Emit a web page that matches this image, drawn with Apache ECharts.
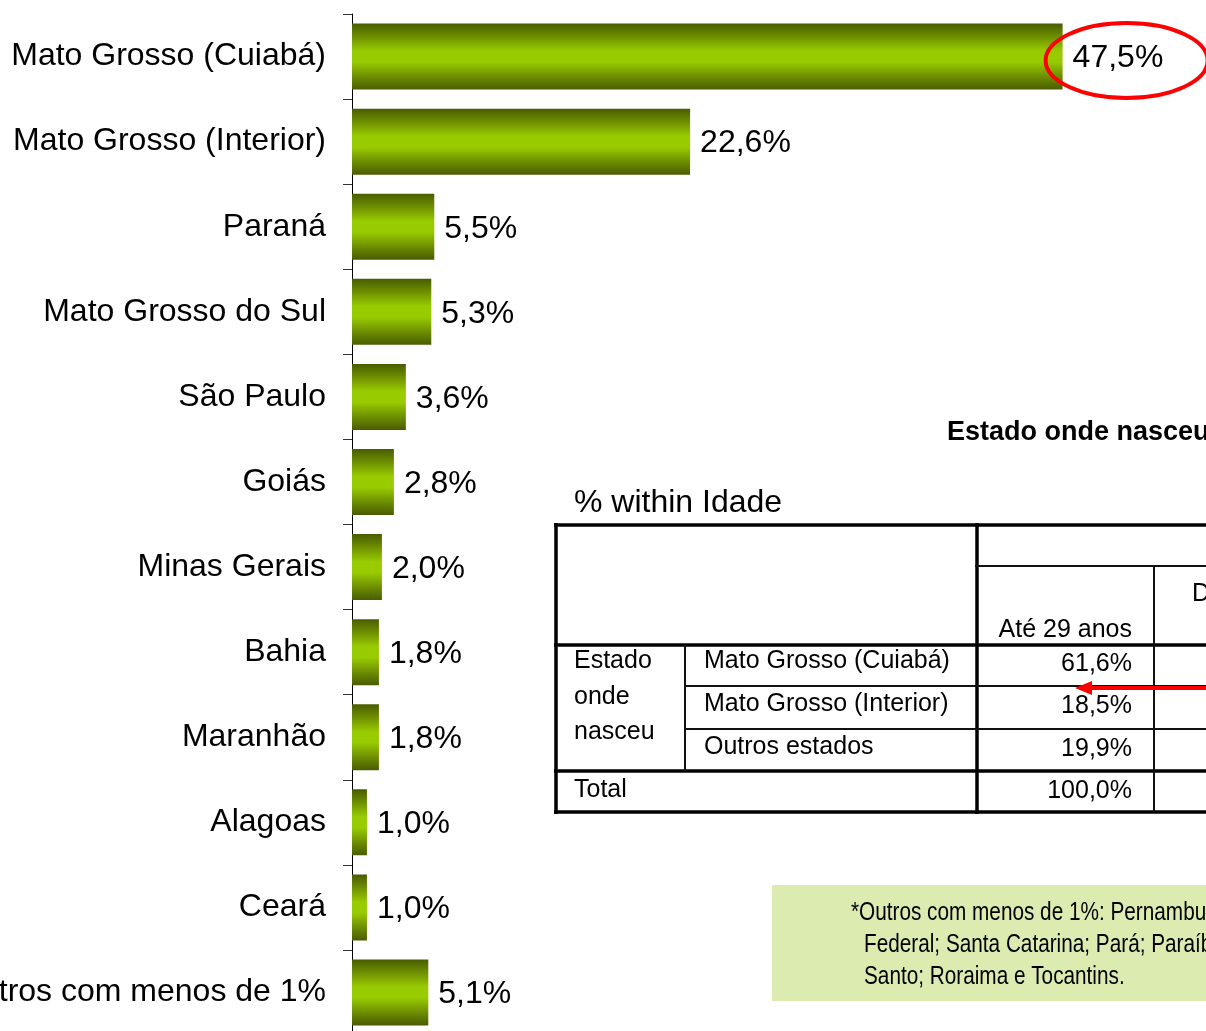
<!DOCTYPE html>
<html><head><meta charset="utf-8">
<script src="https://cdn.jsdelivr.net/npm/echarts@6/dist/echarts.min.js"></script>
<style>html,body{margin:0;padding:0;background:#fff;overflow:hidden}#c{width:1206px;height:1031px}</style>
</head><body><div id="c"></div>
<script>
// ---- data ----
const categories = ['Mato Grosso (Cuiabá)','Mato Grosso (Interior)','Paraná','Mato Grosso do Sul','São Paulo','Goiás','Minas Gerais','Bahia','Maranhão','Alagoas','Ceará','Outros com menos de 1%'];
const values = [47.5,22.6,5.5,5.3,3.6,2.8,2.0,1.8,1.8,1.0,1.0,5.1];
const highlightIndex = 0;
const tableTitle = 'Estado onde nasceu';
const tableSubtitle = '% within Idade';
const tableColHeaders = ['Até 29 anos','De 30 a 49 anos'];
const tableRowGroup = ['Estado','onde','nasceu'];
const tableRows = ['Mato Grosso (Cuiabá)','Mato Grosso (Interior)','Outros estados'];
const tableCol1 = ['61,6%','18,5%','19,9%'];
const tableTotalLabel = 'Total';
const tableTotal = '100,0%';
const noteLines = ['*Outros com menos de 1%: Pernambuco; Rio de Janeiro; Distrito','Federal; Santa Catarina; Pará; Paraíba; Rondônia; Espírito','Santo; Roraima e Tocantins.'];

const FONT = '"Liberation Sans", Arial, sans-serif';
const fmt = v => v.toFixed(1).replace('.', ',') + '%';

const chart = echarts.init(document.getElementById('c'), null, {renderer:'canvas'});
const barGrad = new echarts.graphic.LinearGradient(0,0,0,1,[
  {offset:0, color:'#4a5c00'},
  {offset:0.2, color:'#6e8f00'},
  {offset:0.42, color:'#99cc00'},
  {offset:0.58, color:'#99cc00'},
  {offset:0.8, color:'#6e8f00'},
  {offset:1, color:'#4a5c00'}
]);

chart.setOption({
  animation:false,
  backgroundColor:'#fff',
  grid:{left:352, top:14, width:748, height:1021, containLabel:false, outerBoundsMode:'none'},
  xAxis:{type:'value', min:0, max:50, show:false},
  yAxis:{type:'category', data:categories, inverse:true,
    axisLine:{show:true, lineStyle:{color:'#000', width:1}},
    axisTick:{show:true, length:9, lineStyle:{color:'#333'}},
    axisLabel:{margin:26, fontSize:32, color:'#000', fontFamily:FONT, padding:[4,0,0,0]}
  },
  series:[{
    type:'bar', data:values, barWidth:66,
    itemStyle:{color:barGrad},
    label:{show:true, position:'right', distance:10, offset:[0,2], fontSize:32, color:'#000', fontFamily:FONT, formatter:p=>fmt(p.value)}
  }]
});

// table overlay & annotations
const g = [];
const L = (x1,y1,x2,y2,w,c) => g.push({type:'line', z:10, shape:{x1,y1,x2,y2}, style:{stroke:c||'#000', lineWidth:w}});
const T = (x,y,text,opt,sx) => g.push({type:'text', z:11, x, y, scaleX:sx||1, style:Object.assign({text, x:0, y:0, fill:'#000', font:'25px '+FONT, textAlign:'left', textVerticalAlign:'middle'}, opt||{})});

T(947,433,tableTitle,{font:'bold 27px '+FONT});
T(574,503,tableSubtitle,{font:'32px '+FONT});
// thick borders
L(554,525,1206,525,3.5); L(556,523,556,814,3.5); L(977,523,977,814,3.5);
L(554,645,1206,645,3.5); L(554,771,1206,771,3.5); L(554,812,1206,812,3.5);
// thin lines
L(975,566,1206,566,2,'#111'); L(1154,566,1154,812,2,'#111');
L(685,645,685,771,2,'#111'); L(685,686,1206,686,2,'#111'); L(685,729,1206,729,2,'#111');
T(1132,630,tableColHeaders[0],{textAlign:'right'});
T(1192,594,tableColHeaders[1]);
tableRowGroup.forEach((t,i)=>T(574,[661,697,732][i],t));
tableRows.forEach((t,i)=>T(704,[661,704,747][i],t));
tableCol1.forEach((t,i)=>T(1132,[664,706,749][i],t,{textAlign:'right'}));
T(574,790,tableTotalLabel);
T(1132,791,tableTotal,{textAlign:'right'});
// red arrow
g.push({type:'line', z:12, shape:{x1:1215,y1:688,x2:1088,y2:688}, style:{stroke:'#ff0000', lineWidth:4}});
g.push({type:'polygon', z:12, shape:{points:[[1075,688],[1092,681],[1092,695]]}, style:{fill:'#ff0000'}});
// note box
g.push({type:'rect', z:5, shape:{x:772,y:885,width:520,height:116}, style:{fill:'#dcebb0'}});
T(851,913,noteLines[0],{font:'25px '+FONT},0.83);
T(864,945,noteLines[1],{font:'25px '+FONT},0.83);
T(864,977,noteLines[2],{font:'25px '+FONT},0.83);
// highlight ellipse around the top value label
const end = chart.convertToPixel({gridIndex:0},[values[highlightIndex], highlightIndex]);
g.push({type:'ellipse', z:12, shape:{cx:end[0]+64, cy:end[1]+4, rx:81, ry:37.5}, style:{fill:'none', stroke:'#ff0000', lineWidth:4}});
chart.setOption({graphic:g});
</script></body></html>
